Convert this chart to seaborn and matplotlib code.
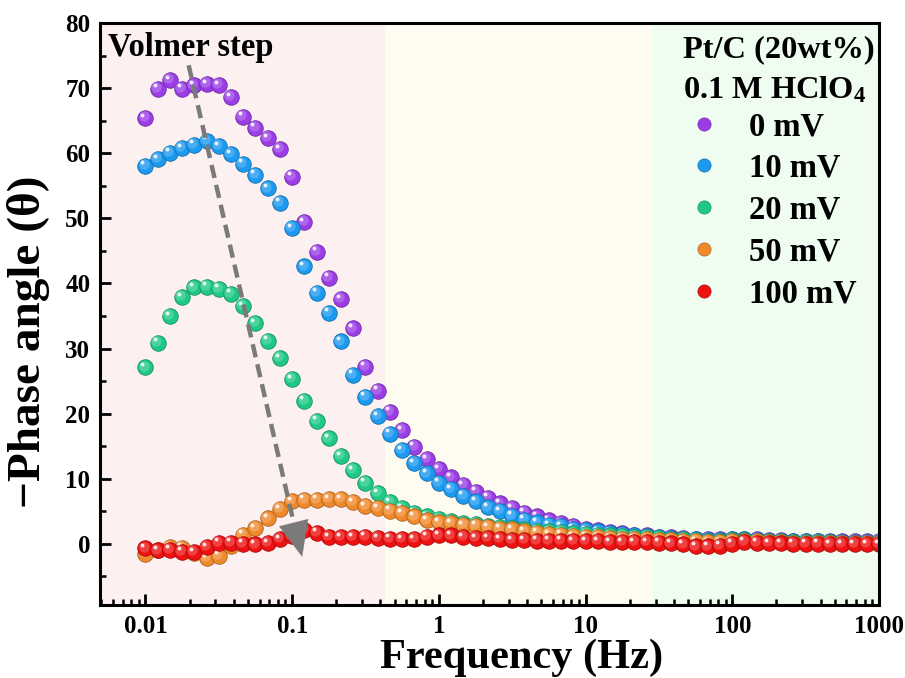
import numpy as np
import pandas as pd
import seaborn as sns
import matplotlib
matplotlib.use("Agg")
import matplotlib.pyplot as plt
from matplotlib.lines import Line2D
from matplotlib.transforms import ScaledTranslation
import matplotlib.colors as mcolors

# ---------------- data ----------------
freq = [0.01, 0.0121, 0.0147, 0.0178, 0.0215, 0.0261, 0.0316, 0.0383, 0.0464, 0.0562, 0.0681, 0.0825,
        0.1, 0.121, 0.147, 0.178, 0.215, 0.261, 0.316, 0.383, 0.464, 0.562, 0.681, 0.825,
        1.0, 1.21, 1.47, 1.78, 2.15, 2.61, 3.16, 3.83, 4.64, 5.62, 6.81, 8.25,
        10.0, 12.1, 14.7, 17.8, 21.5, 26.1, 31.6, 38.3, 46.4, 56.2, 68.1, 82.5,
        100.0, 121.0, 147.0, 178.0, 215.0, 261.0, 316.0, 383.0, 464.0, 562.0, 681.0, 825.0,
        1000.0]

phase_0mV = [65.4, 69.9, 71.2, 69.9, 70.4, 70.6, 70.5, 68.6, 65.6, 63.9, 62.3, 60.6, 56.4,
             49.4, 44.9, 40.9, 37.6, 33.1, 27.2, 23.5, 20.3, 17.5, 14.9, 13.0, 11.5,
             10.2, 9.0, 8.0, 7.1, 6.2, 5.5, 4.8, 4.2, 3.6, 3.2, 2.7, 2.3,
             2.1, 1.8, 1.6, 1.4, 1.3, 1.1, 1.0, 0.9, 0.8, 0.7, 0.7, 0.8,
             0.8, 0.7, 0.6, 0.6, 0.5, 0.5, 0.5, 0.4, 0.4, 0.4, 0.4, 0.4]
phase_10mV = [58.1, 59.1, 60.1, 60.8, 61.3, 61.9, 61.1, 59.9, 58.4, 56.7, 54.6, 52.4, 48.5,
              42.6, 38.6, 35.5, 31.1, 26.0, 22.6, 19.6, 16.9, 14.4, 12.4, 10.8, 9.4,
              8.4, 7.4, 6.5, 5.6, 5.0, 4.3, 3.7, 3.3, 2.9, 2.7, 2.3, 2.1,
              1.9, 1.7, 1.5, 1.3, 1.2, 1.0, 0.9, 0.8, 0.7, 0.6, 0.6, 0.7,
              0.7, 0.6, 0.5, 0.5, 0.4, 0.4, 0.4, 0.3, 0.3, 0.3, 0.3, 0.3]
phase_20mV = [27.1, 30.9, 35.0, 37.9, 39.4, 39.5, 39.2, 38.4, 36.5, 33.9, 31.2, 28.5, 25.3,
              22.0, 18.9, 16.2, 13.5, 11.3, 9.4, 7.8, 6.4, 5.5, 4.8, 4.2, 3.8,
              3.5, 3.2, 3.0, 2.8, 2.6, 2.4, 2.2, 2.0, 1.9, 1.8, 1.6, 1.5,
              1.4, 1.3, 1.2, 1.1, 1.0, 0.9, 0.8, 0.7, 0.6, 0.5, 0.5, 0.6,
              0.6, 0.5, 0.4, 0.4, 0.3, 0.3, 0.3, 0.3, 0.2, 0.2, 0.2, 0.2]
phase_50mV = [-1.6, -1.0, -0.5, -0.6, -1.4, -2.2, -1.8, -0.4, 1.4, 2.4, 3.9, 5.3, 6.6,
              6.8, 6.8, 6.9, 6.9, 6.4, 5.8, 5.5, 5.1, 4.7, 4.2, 3.6, 3.3,
              3.2, 2.9, 2.8, 2.6, 2.3, 2.2, 1.9, 1.7, 1.5, 1.4, 1.2, 1.1,
              1.0, 0.9, 0.8, 0.8, 0.7, 0.6, 0.6, 0.5, 0.4, 0.3, 0.3, 0.4,
              0.5, 0.4, 0.3, 0.3, 0.2, 0.2, 0.2, 0.2, 0.1, 0.1, 0.1, 0.1]
phase_100mV = [-0.7, -1.0, -0.9, -1.2, -1.3, -0.5, 0.2, 0.2, 0.0, -0.1, 0.1, 0.7, 1.2,
               2.1, 1.7, 1.0, 1.0, 1.0, 1.1, 0.9, 0.8, 0.7, 0.7, 1.1, 1.3,
               1.3, 1.0, 0.9, 0.9, 0.7, 0.6, 0.6, 0.5, 0.5, 0.5, 0.4, 0.4,
               0.4, 0.3, 0.3, 0.3, 0.25, 0.15, 0.05, -0.1, -0.4, -0.4, -0.3, 0.0,
               0.35, 0.2, 0.1, 0.05, 0.0, 0.0, 0.0, -0.05, -0.05, -0.05, -0.05, -0.05]

labels = ["0 mV", "10 mV", "20 mV", "50 mV", "100 mV"]
series = [phase_0mV, phase_10mV, phase_20mV, phase_50mV, phase_100mV]
colors = ["#9B3DE6", "#1C9AF0", "#1FC985", "#EF8A2C", "#EE1111"]

# region boundaries (Hz)
region_edges = [0.0049, 0.43, 28.5, 1000]
region_colors = ["#FCF0F0", "#FEFCF1", "#EEFDEF"]

# dashed arrow (Volmer step)
arrow_start = (0.0197, 73.5)
arrow_head_base = (0.104, 2.6)
arrow_tip = (0.117, -2.0)

# ---------------- style ----------------
sns.set_theme(style="ticks")
plt.rcParams["font.family"] = ["Liberation Serif", "DejaVu Serif"]
plt.rcParams["font.weight"] = "bold"
plt.rcParams["text.color"] = "black"
plt.rcParams["axes.labelcolor"] = "black"
plt.rcParams["xtick.color"] = "black"
plt.rcParams["ytick.color"] = "black"
plt.rcParams["mathtext.fontset"] = "custom"
plt.rcParams["mathtext.rm"] = "Liberation Serif:bold"
plt.rcParams["mathtext.bf"] = "Liberation Serif:bold"
plt.rcParams["mathtext.it"] = "Liberation Serif:bold"
plt.rcParams["mathtext.default"] = "bf"

fig = plt.figure(figsize=(9.05, 6.78), dpi=100)
ax = fig.add_axes([100 / 905, 1 - 605 / 678, 779 / 905, 582 / 678])

for i in range(3):
    ax.axvspan(region_edges[i], region_edges[i + 1], color=region_colors[i], zorder=0, lw=0)

df = pd.DataFrame({"freq": freq * len(labels),
                   "phase": sum(series, []),
                   "bias": sum([[l] * len(freq) for l in labels], [])})

def shade(c, f):
    r, g, b = mcolors.to_rgb(c)
    return (r * f, g * f, b * f)

def tint(c, f):
    r, g, b = mcolors.to_rgb(c)
    return (r + (1 - r) * f, g + (1 - g) * f, b + (1 - b) * f)

off_mid = ax.transData + ScaledTranslation(-1.3 / 72, 1.3 / 72, fig.dpi_scale_trans)
off_hi = ax.transData + ScaledTranslation(-2.2 / 72, 2.4 / 72, fig.dpi_scale_trans)

z = 3
for lab, c in zip(labels, colors):
    sub = df[df["bias"] == lab]
    sns.scatterplot(data=sub, x="freq", y="phase", color=c, s=125,
                    edgecolor=shade(c, 0.72), linewidth=0.6, ax=ax, zorder=z, legend=False)
    ax.scatter(sub["freq"], sub["phase"], s=55, color=tint(c, 0.25), lw=0,
               transform=off_mid, zorder=z + 0.1, alpha=0.8)
    ax.scatter(sub["freq"], sub["phase"], s=8, color="white", lw=0,
               transform=off_hi, zorder=z + 0.2, alpha=0.85)
    z += 1

ax.set_xscale("log")
ax.set_xlim(region_edges[0], region_edges[-1])
ax.set_ylim(-9.4, 80)
ax.set_yticks(range(0, 81, 10))
ax.set_yticks(range(-5, 81, 5), minor=True)
ax.set_xticks([0.01, 0.1, 1, 10, 100, 1000])
ax.set_xticklabels(["0.01", "0.1", "1", "10", "100", "1000"])

ax.tick_params(axis="both", which="major", direction="in", length=8, width=2,
               labelsize=18, pad=7)
ax.tick_params(axis="both", which="minor", direction="in", length=4.5, width=1.8)
for lbl in ax.get_xticklabels() + ax.get_yticklabels():
    lbl.set_fontweight("bold")
for sp in ax.spines.values():
    sp.set_linewidth(2.2)
    sp.set_color("black")
    sp.set_zorder(20)

ax.set_xlabel("Frequency (Hz)", fontsize=30.5, fontweight="bold")
ax.xaxis.set_label_coords((522 - 100) / 779, (605 - 639) / 582)
ax.set_ylabel("\u2212Phase angle (\u03b8)", fontsize=34, fontweight="bold")
ax.yaxis.set_label_coords((50 - 100) / 779, (605 - 342) / 582)

# arrow
ax.plot([arrow_start[0], arrow_head_base[0]], [arrow_start[1], arrow_head_base[1]],
        ls=(0, (3, 1.6)), color="#7A7A7A", lw=3.2, zorder=12, solid_capstyle="butt")
ax.annotate("", xy=arrow_tip, xytext=arrow_head_base,
            arrowprops=dict(arrowstyle="-|>,head_length=1.4,head_width=0.6",
                            color="#7A7A7A", lw=0.1, mutation_scale=18, shrinkA=0, shrinkB=0),
            zorder=12)

ax.text(8 / 779, (605 - 56) / 582, "Volmer step", transform=ax.transAxes,
        fontsize=23.5, fontweight="bold", va="baseline", ha="left", zorder=15)

ax.text((683 - 100) / 779, (605 - 50) / 582, "Pt/C (20wt%)", transform=ax.transAxes,
        fontsize=23.3, fontweight="bold", va="center", ha="left", zorder=15)
ax.text((683 - 100) / 779, (605 - 90) / 582, "0.1 M HClO$_4$", transform=ax.transAxes,
        fontsize=23.3, fontweight="bold", va="center", ha="left", zorder=15)

handles = [Line2D([], [], ls="none", marker="o", markersize=9.5, markerfacecolor=c,
                  markeredgecolor=shade(c, 0.75), markeredgewidth=0.5) for c in colors]
leg = ax.legend(handles, labels, loc="upper left",
                bbox_to_anchor=((684 - 100) / 779, (605 - 111) / 582),
                frameon=False, prop={"family": "Liberation Serif", "weight": "bold", "size": 23.5},
                handletextpad=0.8, labelspacing=0.33, handlelength=1.2, borderaxespad=0,
                borderpad=0)
leg.set_zorder(15)

fig.savefig("out.png", dpi=100)
